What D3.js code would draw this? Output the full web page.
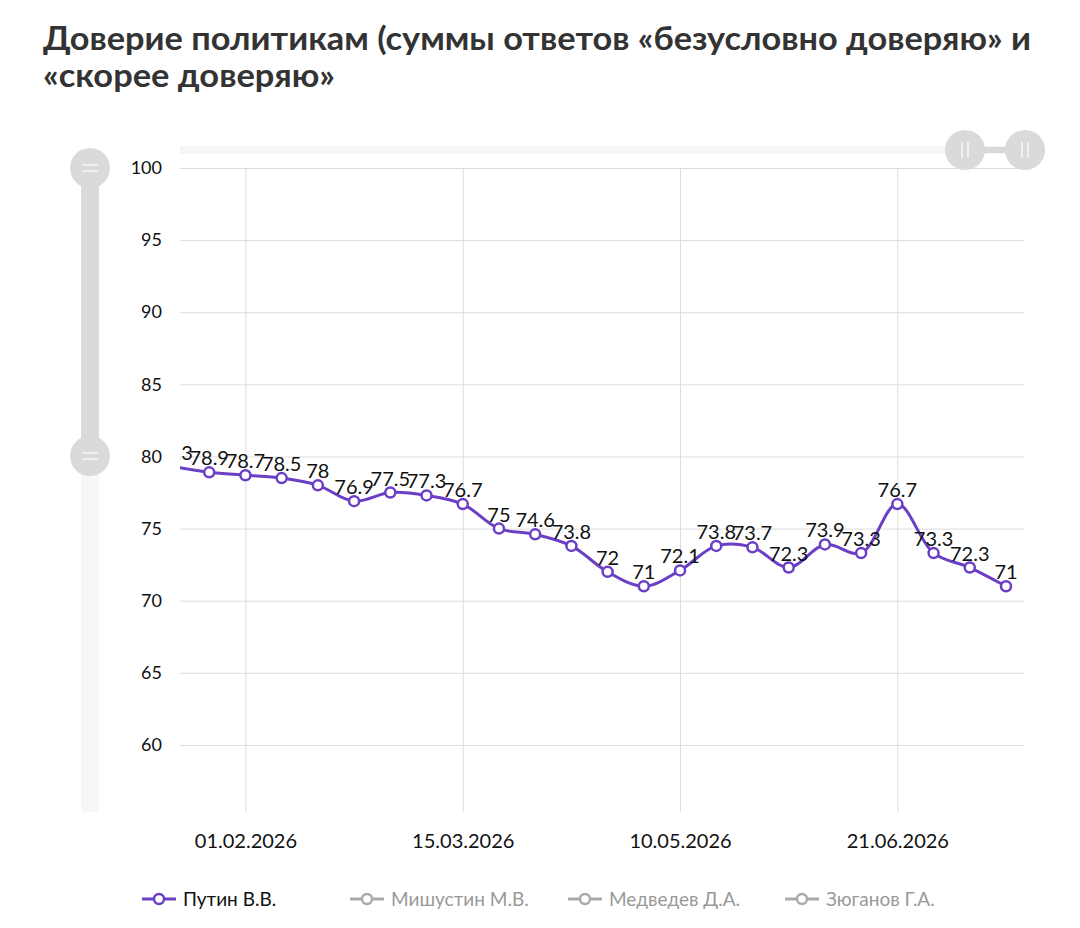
<!DOCTYPE html>
<html><head><meta charset="utf-8">
<script src="https://cdn.jsdelivr.net/npm/d3@7"></script>
<style>
html,body{margin:0;padding:0;background:#fff;}
svg{display:block;font-family:Lato,"Noto Sans",sans-serif;}
</style></head>
<body>
<svg id="chart" width="1080" height="928"></svg>
<script>
// ---- data ----
const titleLines = ["Доверие политикам (суммы ответов «безусловно доверяю» и", "«скорее доверяю»"];
const dates = ["18.01.2026","25.01.2026","01.02.2026","08.02.2026","15.02.2026","22.02.2026","01.03.2026","08.03.2026","15.03.2026","22.03.2026","29.03.2026","05.04.2026","19.04.2026","26.04.2026","10.05.2026","17.05.2026","24.05.2026","31.05.2026","07.06.2026","14.06.2026","21.06.2026","28.06.2026","05.07.2026","12.07.2026"];
const putin = [79.3,78.9,78.7,78.5,78,76.9,77.5,77.3,76.7,75,74.6,73.8,72,71,72.1,73.8,73.7,72.3,73.9,73.3,76.7,73.3,72.3,71];
const xTickLabels = ["01.02.2026","15.03.2026","10.05.2026","21.06.2026"];
const yTickValues = [60,65,70,75,80,85,90,95,100];
const legendNames = ["Путин В.В.","Мишустин М.В.","Медведев Д.А.","Зюганов Г.А."];
const legendActive = [true,false,false,false];

// ---- layout ----
const svg = d3.select("#chart");
const L = 180, R = 1024, T = 168, B = 812;
const purple = "#6a3fc6", grid = "#dcdcdc";

// title
const title = svg.append("g");
titleLines.forEach((t,i)=>{
  const el = title.append("text").attr("x",43).attr("y",50 + i*37)
    .attr("font-size",32).attr("font-weight",700).attr("fill","#333")
    .attr("font-family","Lato,'Open Sans',sans-serif").text(t);
  const target = i===0 ? 988 : 292;
  el.attr("textLength",target).attr("lengthAdjust","spacingAndGlyphs");
});

// scales
const x = d3.scalePoint().domain(dates).range([173,1006]);
const y = d3.scaleLinear().domain([55.35,100]).range([B,T]);

// clip
svg.append("defs").append("clipPath").attr("id","plotclip")
  .append("rect").attr("x",L).attr("y",T-60).attr("width",R-L).attr("height",B-T+60);

// grid horizontal
const yAxis = d3.axisLeft(y).tickValues(yTickValues).tickSize(-(R-L)).tickPadding(18).tickFormat(d3.format("d"));
const gy = svg.append("g").attr("transform",`translate(${L},0)`).call(yAxis);
gy.select(".domain").remove();
gy.selectAll(".tick line").attr("stroke",grid).attr("stroke-width",1);
gy.selectAll(".tick text").attr("font-size",18).attr("fill","#111").attr("font-family","Lato,sans-serif");

// grid vertical + x labels
const xAxis = d3.axisBottom(x).tickValues(xTickLabels).tickSize(-(B-T)).tickPadding(22);
const gx = svg.append("g").attr("transform",`translate(0,${B})`).call(xAxis);
gx.select(".domain").remove();
gx.selectAll(".tick line").attr("stroke",grid).attr("stroke-width",1);
gx.selectAll(".tick text").attr("font-size",20).attr("fill","#111").attr("font-family","Lato,sans-serif");

// line
const plot = svg.append("g").attr("clip-path","url(#plotclip)");
const line = d3.line().x((d,i)=>x(dates[i])).y(d=>y(d)).curve(d3.curveCatmullRom.alpha(0.5));
plot.append("path").datum(putin).attr("d",line).attr("fill","none")
  .attr("stroke",purple).attr("stroke-width",3);
plot.selectAll("circle.pt").data(putin).join("circle").attr("class","pt")
  .attr("cx",(d,i)=>x(dates[i])).attr("cy",d=>y(d)).attr("r",5)
  .attr("fill","#fff").attr("stroke",purple).attr("stroke-width",2.5);
plot.selectAll("text.lbl").data(putin).join("text").attr("class","lbl")
  .attr("x",(d,i)=>x(dates[i])).attr("y",d=>y(d)-7).attr("text-anchor","middle")
  .attr("font-size",20).attr("fill","#111").text(d=>d3.format("")(d));

// top horizontal scrollbar
const sb = svg.append("g");
sb.append("rect").attr("x",180).attr("y",146).attr("width",865).attr("height",8).attr("fill","#f6f6f6");
sb.append("rect").attr("x",965).attr("y",147).attr("width",60).attr("height",6).attr("fill","#d9d9d9");
[965,1025].forEach(cx=>{
  sb.append("circle").attr("cx",cx).attr("cy",150).attr("r",20).attr("fill","#dadada");
  [-3,3].forEach(o=>sb.append("line").attr("x1",cx+o).attr("x2",cx+o).attr("y1",142).attr("y2",158)
    .attr("stroke","#fff").attr("stroke-opacity",0.8).attr("stroke-width",1.5));
});

// left vertical scrollbar
const vs = svg.append("g");
vs.append("rect").attr("x",81).attr("y",168).attr("width",18).attr("height",644).attr("rx",4).attr("fill","#f7f7f7");
vs.append("rect").attr("x",81).attr("y",168).attr("width",18).attr("height",288).attr("fill","#dadada");
[168,456].forEach(cy=>{
  vs.append("circle").attr("cx",90).attr("cy",cy).attr("r",20).attr("fill","#dadada");
  [-3,3].forEach(o=>vs.append("line").attr("x1",82).attr("x2",98).attr("y1",cy+o).attr("y2",cy+o)
    .attr("stroke","#fff").attr("stroke-opacity",0.8).attr("stroke-width",1.5));
});

// legend
const legX = [142,350,568,785];
const lg = svg.append("g");
legendNames.forEach((n,i)=>{
  const c = legendActive[i] ? purple : "#aaa";
  const g = lg.append("g").attr("transform",`translate(${legX[i]},899)`);
  g.append("line").attr("x1",0).attr("x2",34).attr("y1",0).attr("y2",0).attr("stroke",c).attr("stroke-width",3);
  g.append("circle").attr("cx",17).attr("cy",0).attr("r",5).attr("fill","#fff").attr("stroke",c).attr("stroke-width",2.5);
  g.append("text").attr("x",41).attr("y",7).attr("font-size",19)
    .attr("fill",legendActive[i] ? "#111" : "#999").text(n);
});
</script>
</body></html>
